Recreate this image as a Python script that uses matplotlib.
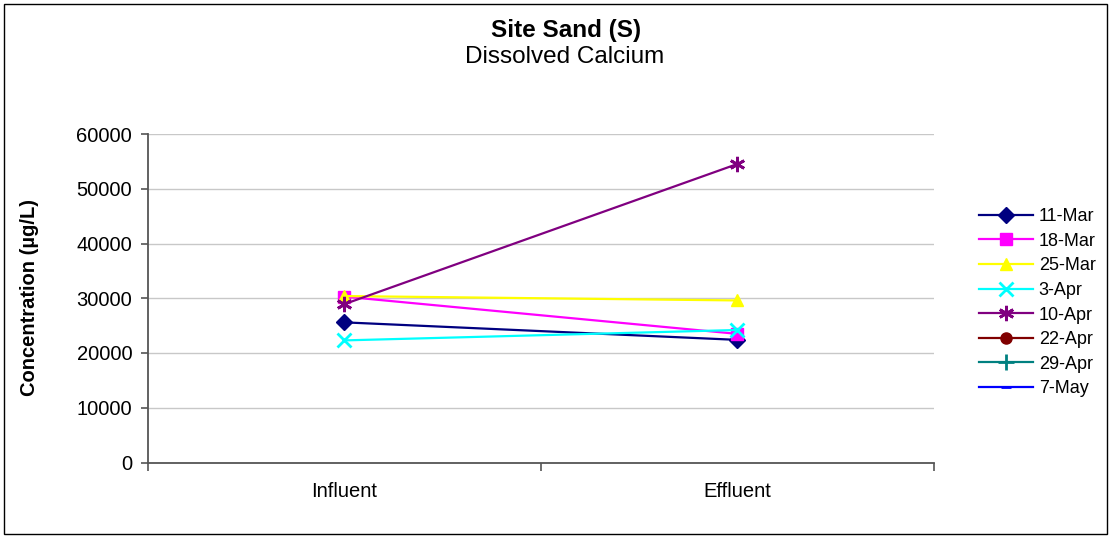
import numpy as np
import matplotlib
matplotlib.use("Agg")
import matplotlib.pyplot as plt
from matplotlib.patches import Rectangle

plt.rcParams['font.family'] = ['Liberation Sans', 'DejaVu Sans']

# data
categories = ['Influent', 'Effluent']
dates = ['11-Mar', '18-Mar', '25-Mar', '3-Apr', '10-Apr', '22-Apr', '29-Apr', '7-May']
s_11mar = [25600, 22400]
s_18mar = [30300, 23500]
s_25mar = [30400, 29600]
s_3apr = [22300, 24200]
s_10apr = [28900, 54500]
s_22apr = [np.nan, np.nan]
s_29apr = [np.nan, np.nan]
s_7may = [np.nan, np.nan]
yticks = [0, 10000, 20000, 30000, 40000, 50000, 60000]

series = [s_11mar, s_18mar, s_25mar, s_3apr, s_10apr, s_22apr, s_29apr, s_7may]
colors = ['#000080', '#FF00FF', '#FFFF00', '#00FFFF', '#800080', '#800000', '#008080', '#0000FF']
markers = ['D', 's', '^', 'x', (6, 2, 0), 'o', '+', '_']
msizes = [8, 8, 9, 10, 11, 8, 11, 7]

W, H = 1113, 537
fig = plt.figure(figsize=(W / 100, H / 100), dpi=100)
fig.patches.append(Rectangle((4 / W, 3 / H), 1103 / W, 530 / H, transform=fig.transFigure,
                             fill=False, edgecolor='black', linewidth=1))

ax = fig.add_axes([147.5 / W, (H - 462.5) / H, 786 / W, 328.5 / H])
x = np.arange(len(categories)) + 0.5
for vals, c, m, ms, lab in zip(series, colors, markers, msizes, dates):
    thin = m in ('x', '+', '_') or m == (6, 2, 0)
    ax.plot(x, vals, color=c, marker=m, markersize=ms, markeredgewidth=2 if thin else 1,
            markeredgecolor=c, markerfacecolor=c, linewidth=1.6, label=lab)

ax.set_xlim(0, 2)
ax.set_ylim(0, 60000)
ax.set_yticks(yticks)
ax.set_yticklabels([str(v) for v in yticks], fontsize=14.5)
ax.set_xticks([0, 1, 2])
ax.set_xticklabels([])
ax.set_xticks(x, minor=True)
ax.set_xticklabels(categories, minor=True, fontsize=14.5)
ax.tick_params(axis='x', which='major', direction='out', length=6, width=1.2, color='#555555')
ax.tick_params(axis='x', which='minor', length=0, pad=14)
ax.tick_params(axis='y', direction='out', length=5, width=1.2, color='#555555', pad=6)
ax.grid(axis='y', color='#c8c8c8', linewidth=1)
ax.set_axisbelow(True)
for s in ['top', 'right']:
    ax.spines[s].set_visible(False)
for s in ['left', 'bottom']:
    ax.spines[s].set_color('#555555')
    ax.spines[s].set_linewidth(1.3)

fig.text(30 / W, 1 - 298 / H, 'Concentration (µg/L)', rotation=90, ha='center', va='center',
         fontsize=14.5, fontweight='bold')

fig.text(566 / W, 1 - 31 / H, 'Site Sand (S)', ha='center', va='center', fontsize=17.5, fontweight='bold')
fig.text(565 / W, 1 - 57 / H, 'Dissolved Calcium', ha='center', va='center', fontsize=17.5)

fig.legend(loc='upper left', bbox_to_anchor=(972 / W, 1 - 201 / H), frameon=False,
           fontsize=13, handlelength=3.0, handletextpad=0.3, labelspacing=0.42, borderaxespad=0)

fig.savefig('out.png', dpi=100)
